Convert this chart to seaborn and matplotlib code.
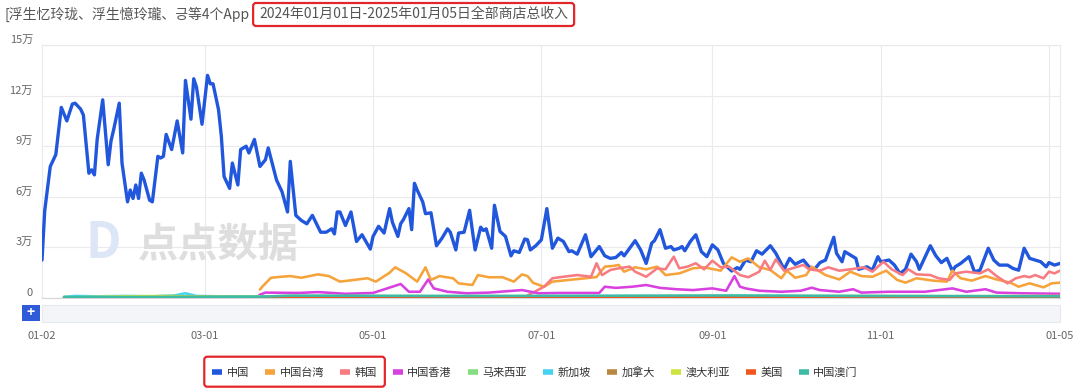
import matplotlib
matplotlib.use("Agg")
import matplotlib.pyplot as plt
from matplotlib.lines import Line2D
from matplotlib.patches import FancyBboxPatch, Rectangle
import seaborn as sns
import pandas as pd

# ---- data (values in 万, x = days since 2024-01-02) ----
START = pd.Timestamp("2024-01-02")
END = pd.Timestamp("2025-01-05")

regions = ["中国", "中国台湾", "韩国", "中国香港", "马来西亚",
           "新加坡", "加拿大", "澳大利亚", "美国", "中国澳门"]
colors = ["#2157dc", "#f5a33a", "#f77b80", "#d940e0", "#86dc7e",
          "#45d3f2", "#b8873f", "#cde33f", "#f0561d", "#3dbba4"]

cn_day = [0, 1, 3, 5, 7, 9, 11, 12, 14, 15,
          17, 18, 19, 20, 22, 24, 25, 26, 28, 29,
          31, 32, 33, 34, 35, 36, 37, 39, 40, 42,
          43, 44, 45, 47, 49, 51, 52, 54, 55, 56,
          58, 60, 61, 62, 64, 65, 66, 68, 69, 71,
          72, 74, 75, 77, 79, 81, 82, 85, 87, 89,
          90, 92, 94, 96, 98, 101, 103, 104, 105, 106,
          107, 108, 110, 112, 114, 116, 119, 120, 122, 124,
          126, 127, 129, 130, 131, 133, 134, 135, 136, 138,
          139, 141, 143, 145, 147, 148, 150, 151, 153, 155,
          156, 157, 159, 160, 161, 163, 164, 166, 168, 170,
          171, 173, 175, 176, 177, 179, 181, 183, 185, 187,
          189, 191, 192, 194, 197, 199, 202, 204, 206, 208,
          210, 211, 215, 217, 219, 221, 222, 224, 226, 228,
          229, 231, 232, 233, 235, 237, 239, 241, 243, 245,
          247, 250, 252, 253, 255, 257, 259, 261, 264, 266,
          269, 271, 273, 276, 278, 280, 282, 284, 287, 288,
          290, 291, 293, 295, 296, 299, 301, 303, 304, 307,
          309, 311, 313, 315, 317, 318, 322, 324, 326, 328,
          330, 331, 333, 336, 338, 340, 343, 345, 347, 350,
          352, 354, 356, 358, 360, 362, 364, 365, 367, 369]
cn_val = [2.25, 5.2, 7.8, 8.5, 11.3, 10.5, 11.5, 11.55, 11.2, 10.85,
          7.4, 7.6, 7.3, 9.4, 11.75, 7.9, 9.3, 10.0, 11.55, 8.0,
          5.7, 6.4, 5.9, 6.7, 5.9, 7.4, 7.0, 5.8, 5.7, 8.4,
          8.3, 8.4, 9.7, 8.8, 10.5, 8.6, 12.9, 10.6, 13.0, 12.5,
          10.3, 13.2, 12.7, 12.7, 11.15, 9.6, 7.2, 6.5, 8.0, 6.7,
          8.8, 9.0, 8.6, 9.4, 7.8, 8.2, 8.9, 7.0, 6.3, 5.1,
          8.1, 4.9, 4.6, 4.4, 4.9, 3.9, 3.9, 4.0, 4.1, 3.8,
          5.1, 5.1, 4.3, 5.1, 3.35, 3.75, 2.9, 3.65, 4.25, 3.85,
          5.3, 4.5, 3.65, 4.4, 4.65, 5.3, 4.05, 6.8, 6.4, 5.7,
          5.0, 5.05, 3.1, 3.55, 4.1, 3.9, 2.85, 3.85, 3.9, 5.2,
          4.0, 2.85, 4.2, 4.0, 4.1, 2.95, 5.5, 3.95, 3.65, 2.5,
          2.8, 2.7, 3.5, 3.45, 2.85, 3.1, 3.45, 5.3, 2.95, 3.55,
          3.35, 2.75, 2.8, 2.6, 3.75, 2.45, 3.05, 2.5, 2.35, 2.4,
          2.7, 2.5, 3.4, 2.85, 2.05, 3.25, 3.4, 4.05, 2.95, 3.05,
          2.85, 2.95, 3.05, 2.8, 3.35, 3.75, 2.75, 2.45, 3.15, 2.85,
          2.05, 1.6, 1.8, 1.7, 2.25, 2.15, 2.8, 2.6, 3.1, 2.65,
          1.7, 2.35, 2.0, 2.25, 1.85, 1.7, 2.1, 2.25, 3.6, 2.65,
          2.15, 2.75, 2.55, 2.35, 1.7, 1.85, 1.65, 2.45, 2.15, 2.25,
          1.95, 1.45, 1.7, 2.6, 2.15, 1.7, 3.1, 2.5, 2.1, 2.35,
          1.6, 1.85, 2.05, 2.45, 1.55, 1.65, 2.95, 2.25, 1.95, 1.95,
          1.75, 1.65, 2.95, 2.35, 2.25, 2.15, 1.85, 2.1, 1.95, 2.05]

tw_day = [79, 80, 83, 86, 90, 94, 100, 104, 108, 113,
          118, 121, 126, 128, 132, 136, 139, 141, 144, 149,
          151, 156, 158, 162, 167, 171, 174, 176, 178, 182,
          185, 191, 197, 201, 204, 207, 209, 211, 215, 219,
          223, 226, 231, 236, 240, 246, 250, 253, 256, 260,
          264, 268, 270, 273, 277, 279, 282, 284, 289, 293,
          297, 301, 306, 310, 313, 317, 323, 328, 330, 333,
          337, 342, 346, 351, 354, 358, 363, 366, 369]
tw_val = [0.5, 0.7, 1.2, 1.25, 1.3, 1.2, 1.4, 1.3, 0.97, 1.07,
          1.17, 0.97, 1.5, 1.82, 1.46, 0.97, 1.82, 1.07, 1.3, 1.17,
          0.87, 0.77, 1.36, 1.23, 1.23, 0.97, 1.4, 1.3, 0.9, 0.67,
          0.97, 1.07, 1.17, 1.24, 1.86, 1.9, 1.96, 1.56, 1.82, 1.7,
          1.86, 1.36, 1.46, 1.76, 1.82, 1.62, 2.41, 2.15, 2.35, 1.82,
          1.66, 1.17, 1.62, 1.2, 1.36, 1.86, 1.56, 1.36, 1.1, 1.56,
          1.3, 1.26, 1.62, 1.07, 0.91, 1.17, 1.03, 0.97, 1.62, 1.17,
          1.03, 1.3, 1.1, 0.91, 0.67, 0.87, 0.63, 0.87, 0.91]

kr_day = [176, 182, 185, 189, 194, 199, 201, 203, 206, 209,
          213, 215, 219, 223, 226, 229, 231, 234, 237, 240,
          243, 246, 249, 253, 256, 260, 262, 264, 266, 269,
          272, 276, 278, 282, 285, 289, 293, 298, 301, 305,
          308, 312, 314, 317, 322, 325, 329, 331, 335, 340,
          343, 346, 350, 353, 356, 358, 360, 363, 365, 367,
          369]
kr_val = [0.15, 0.67, 1.17, 1.26, 1.36, 1.26, 2.06, 1.36, 1.66, 1.76,
          1.86, 1.56, 1.26, 1.76, 1.7, 2.45, 1.76, 1.86, 2.06, 1.7,
          2.21, 1.82, 1.86, 1.36, 1.23, 1.56, 2.21, 1.66, 2.29, 1.62,
          1.76, 1.96, 1.7, 1.62, 1.82, 1.62, 1.7, 1.82, 1.56, 2.15,
          1.7, 1.36, 1.7, 1.4, 1.36, 1.17, 1.07, 1.46, 1.56, 1.46,
          1.7, 1.3, 0.87, 1.17, 1.3, 1.23, 1.36, 1.17, 1.56, 1.46,
          1.62]

hk_day = [8, 40, 78, 79, 81, 93, 100, 110, 120, 127,
          130, 133, 137, 140, 142, 147, 154, 162, 174, 180,
          188, 202, 204, 208, 214, 219, 224, 230, 236, 243,
          248, 251, 253, 255, 260, 268, 275, 279, 282, 289,
          294, 297, 307, 320, 330, 335, 342, 346, 355, 369]
hk_val = [0.04, 0.05, 0.06, 0.2, 0.32, 0.3, 0.35, 0.25, 0.3, 0.67,
          0.83, 0.37, 0.37, 1.1, 0.57, 0.37, 0.28, 0.32, 0.47, 0.28,
          0.3, 0.3, 0.67, 0.6, 0.67, 0.77, 0.6, 0.52, 0.47, 0.57,
          0.43, 1.3, 0.67, 0.57, 0.43, 0.37, 0.43, 0.61, 0.47, 0.37,
          0.52, 0.32, 0.37, 0.37, 0.57, 0.37, 0.52, 0.32, 0.28, 0.25]

my_day = [8, 30, 60, 100, 200, 300, 369]
my_val = [0.08, 0.1, 0.08, 0.12, 0.1, 0.12, 0.1]

sg_day = [8, 12, 20, 30, 40, 48, 52, 56, 65, 78, 90, 200, 369]
sg_val = [0.05, 0.12, 0.1, 0.12, 0.1, 0.15, 0.28, 0.12, 0.1, 0.08, 0.06, 0.05, 0.04]

ca_day = [8, 100, 200, 300, 369]
ca_val = [0.02, 0.04, 0.05, 0.06, 0.05]

au_day = [8, 30, 45, 60, 120, 250, 330, 369]
au_val = [0.03, 0.1, 0.12, 0.08, 0.05, 0.06, 0.1, 0.12]

us_day = [8, 60, 120, 200, 300, 369]
us_val = [0.03, 0.05, 0.03, 0.05, 0.04, 0.03]

mo_day = [8, 80, 90, 150, 250, 300, 369]
mo_val = [0.05, 0.08, 0.14, 0.12, 0.15, 0.12, 0.1]

series = {
    "中国": (cn_day, cn_val), "中国台湾": (tw_day, tw_val), "韩国": (kr_day, kr_val),
    "中国香港": (hk_day, hk_val), "马来西亚": (my_day, my_val), "新加坡": (sg_day, sg_val),
    "加拿大": (ca_day, ca_val), "澳大利亚": (au_day, au_val), "美国": (us_day, us_val),
    "中国澳门": (mo_day, mo_val),
}

y_ticks = [0, 3, 6, 9, 12, 15]
y_labels = ["0", "3万", "6万", "9万", "12万", "15万"]
x_ticks = ["2024-01-02", "2024-03-01", "2024-05-01", "2024-07-01",
           "2024-09-01", "2024-11-01", "2025-01-05"]
x_labels = ["01-02", "03-01", "05-01", "07-01", "09-01", "11-01", "01-05"]
grid_months = ["2024-03-01", "2024-05-01", "2024-07-01", "2024-09-01",
               "2024-11-01", "2025-01-01"]

title_left = "[浮生忆玲珑、浮生憶玲瓏、긍等4个App"
title_right = "2024年01月01日-2025年01月05日全部商店总收入"

# ---- style ----
sns.set_theme(style="white")
plt.rcParams["font.family"] = ["Noto Sans CJK SC", "DejaVu Sans"]

W, H = 1080, 389
fig = plt.figure(figsize=(W / 100, H / 100), dpi=100)
ax = fig.add_axes([42 / W, 1 - 298 / H, (1060 - 42) / W, (298 - 45) / H])

# watermark
fig.text(103 / W, 1 - 243 / H, "D", fontsize=36, fontweight="bold",
         color="#dce6f7", ha="center", va="center", zorder=0)
fig.text(218 / W, 1 - 245 / H, "点点数据", fontsize=29, fontweight="bold",
         color="#dedede", ha="center", va="center", zorder=0)

for name, color in zip(regions, colors):
    days, vals = series[name]
    df = pd.DataFrame({"date": START + pd.to_timedelta(days, unit="D"), "value": vals})
    lw = 2.4 if name == "中国" else 1.85
    sns.lineplot(data=df, x="date", y="value", color=color, linewidth=lw,
                 estimator=None, sort=False, ax=ax, zorder=3)

ax.set_xlim(START, END)
ax.set_ylim(0, 15)
ax.set_xlabel("")
ax.set_ylabel("")
ax.patch.set_alpha(0)

ax.set_yticks(y_ticks)
ax.set_yticklabels(y_labels)
ax.yaxis.grid(True, color="#e9e9ee", linewidth=0.8)
for d in grid_months:
    ax.axvline(pd.Timestamp(d), color="#e9e9ee", linewidth=0.8, zorder=1)
ax.set_axisbelow(True)

ax.set_xticks(pd.to_datetime(x_ticks))
ax.set_xticklabels(x_labels)
ax.tick_params(axis="x", length=0, pad=24, labelsize=8, labelcolor="#666666")
ax.tick_params(axis="y", length=0, pad=6.5, labelsize=8, labelcolor="#666666")
for lbl in ax.get_yticklabels():
    lbl.set_va("bottom")

for side in ["left", "right", "top"]:
    ax.spines[side].set_color("#e9e9ee")
    ax.spines[side].set_linewidth(0.8)
ax.spines["bottom"].set_color("#d6d6d6")
ax.spines["bottom"].set_linewidth(0.8)

# data zoom strip and button
fig.patches.append(Rectangle((42 / W, 1 - 322 / H), (1060 - 42) / W, 17 / H,
                             transform=fig.transFigure, facecolor="#f3f5f9",
                             edgecolor="#e6e9ef", linewidth=0.8))
fig.patches.append(Rectangle((22 / W, 1 - 321 / H), 18 / W, 16 / H,
                             transform=fig.transFigure, facecolor="#2f5bd8",
                             edgecolor="none"))
fig.text(31 / W, 1 - 313 / H, "+", color="white", fontsize=10,
         ha="center", va="center", fontweight="bold")

# legend
handles = [Line2D([0], [0], color=c, lw=4, solid_capstyle="butt") for c in colors]
leg = fig.legend(handles, regions, loc="center", bbox_to_anchor=(535 / W, 1 - 372 / H),
                 ncol=10, frameon=False, handlelength=0.9, handletextpad=0.4,
                 columnspacing=1.45, fontsize=8, labelcolor="#333333")

# title
t1 = fig.text(5 / W, 1 - 14 / H, title_left, fontsize=10, color="#555555", va="center")
fig.canvas.draw()
r = fig.canvas.get_renderer()
bb1 = t1.get_window_extent(r)
t2 = fig.text((bb1.x1 + 9) / W, 1 - 14 / H, title_right, fontsize=10,
              color="#555555", va="center")
fig.canvas.draw()
bb2 = t2.get_window_extent(r)
fig.patches.append(FancyBboxPatch((bb2.x0 - 6, H - 26), bb2.width + 12, 23,
                                  boxstyle="round,pad=0,rounding_size=3",
                                  transform=None, facecolor="none",
                                  edgecolor="#e3262a", linewidth=1.6))

# red box around first three legend entries
h0 = leg.legend_handles[0].get_window_extent(r)
tx2 = leg.get_texts()[2].get_window_extent(r)
cy = (h0.y0 + h0.y1) / 2
fig.patches.append(FancyBboxPatch((h0.x0 - 8, cy - 15), tx2.x1 - h0.x0 + 16, 30,
                                  boxstyle="round,pad=0,rounding_size=3",
                                  transform=None, facecolor="none",
                                  edgecolor="#e3262a", linewidth=1.6))

fig.savefig("out.png", dpi=100)
